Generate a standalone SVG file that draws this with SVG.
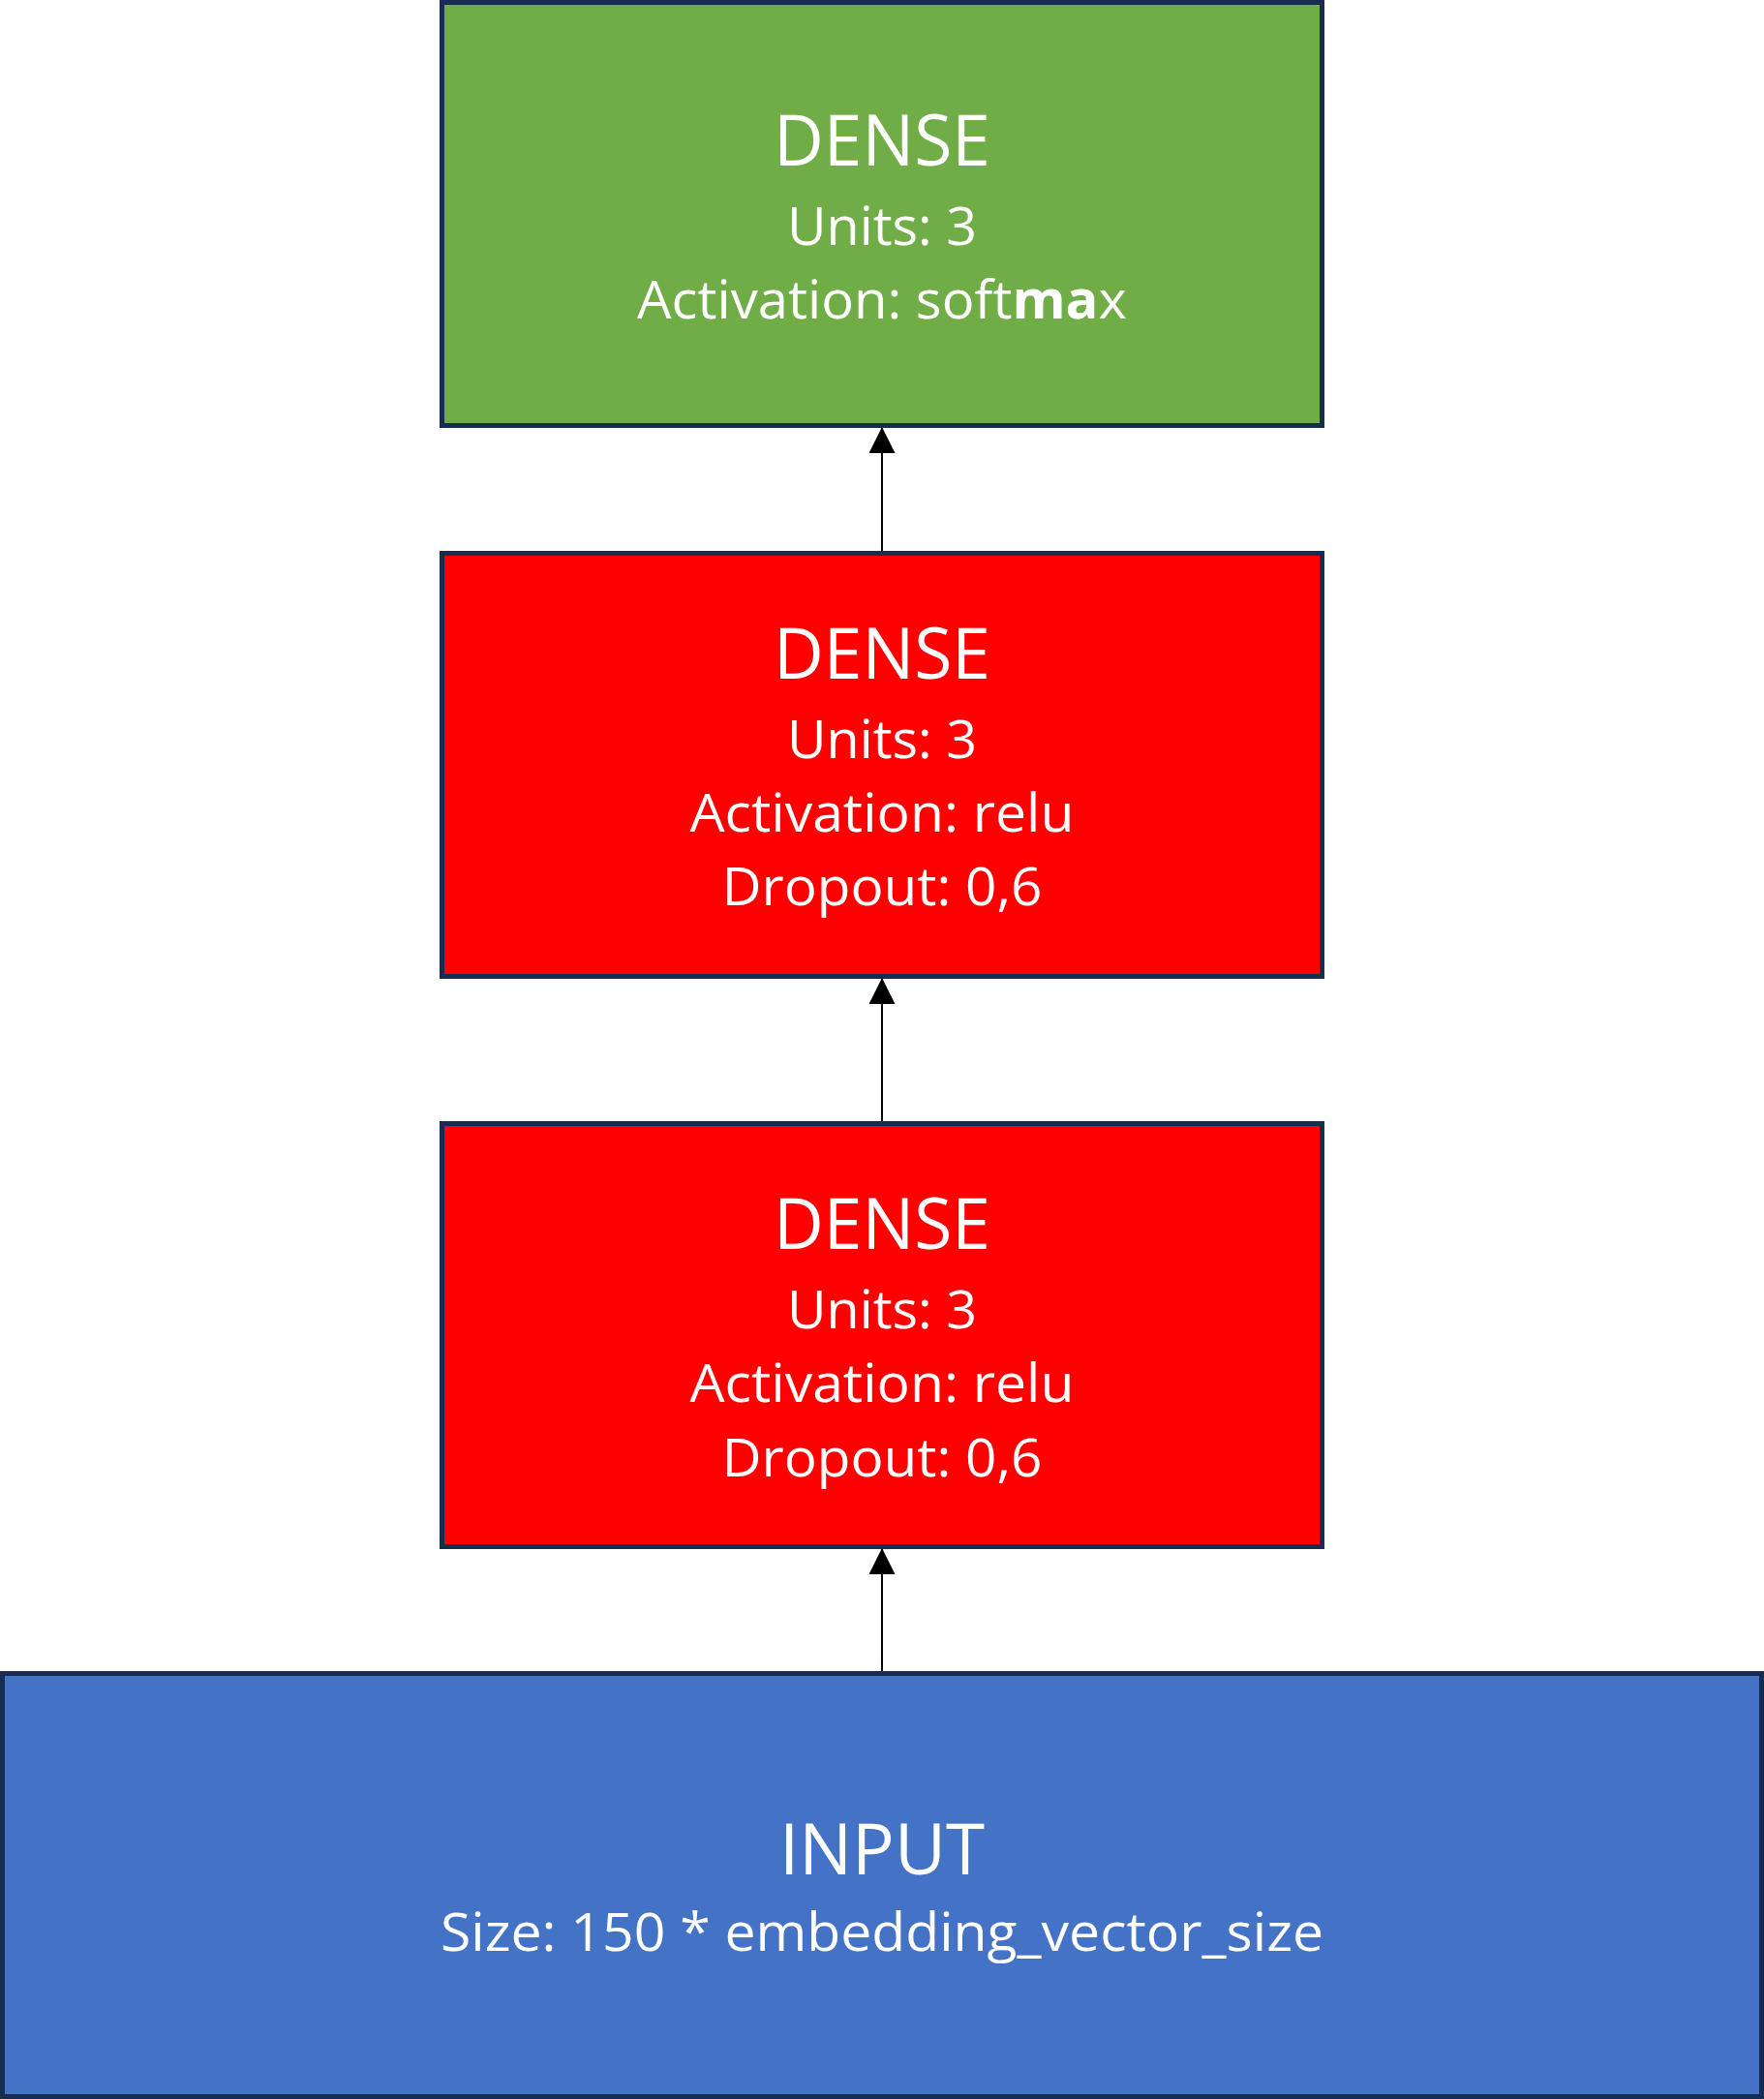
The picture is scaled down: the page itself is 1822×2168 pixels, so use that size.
<svg xmlns="http://www.w3.org/2000/svg" width="1822" height="2168" viewBox="0 0 1822 2168">
  <style>
    .box { stroke: #172C51; stroke-width: 5; }
    .dense-out { fill: #70AD47; }
    .dense-hid { fill: #FF0000; }
    .input { fill: #4472C4; }
    text { font-family: "Open Sans", "Liberation Sans", sans-serif; fill: #FFFFFF; text-anchor: middle; }
    .title { font-size: 74px; }
    .body { font-size: 55px; }
    .b { font-weight: bold; }
    .link { stroke: #000000; stroke-width: 2; fill: none; }
  </style>
  <defs>
    <marker id="arrow" markerUnits="userSpaceOnUse" markerWidth="28" markerHeight="28" refX="27" refY="13.5" orient="auto">
      <path d="M0,0 L27,13.5 L0,27 Z" fill="#000000"/>
    </marker>
  </defs>

  <rect width="1822" height="2168" fill="#FFFFFF"/>

  <!-- connectors -->
  <g id="connectors">
    <line class="link" x1="911" y1="569" x2="911" y2="441" marker-end="url(#arrow)"/>
    <line class="link" x1="911" y1="1158" x2="911" y2="1010" marker-end="url(#arrow)"/>
    <line class="link" x1="911" y1="1726" x2="911" y2="1599" marker-end="url(#arrow)"/>
  </g>

  <!-- output layer -->
  <g id="dense-softmax">
    <rect class="box dense-out" x="456.5" y="2.5" width="909" height="437"/>
    <text class="title" x="911" y="171" textLength="224" lengthAdjust="spacingAndGlyphs">DENSE</text>
    <text class="body" x="911" y="253" textLength="196" lengthAdjust="spacingAndGlyphs">Units: 3</text>
    <text class="body" x="911" y="329" textLength="506" lengthAdjust="spacingAndGlyphs">Activation: soft<tspan class="b">ma</tspan>x</text>
  </g>

  <!-- hidden layer 2 -->
  <g id="dense-relu-2">
    <rect class="box dense-hid" x="456.5" y="571.5" width="909" height="437"/>
    <text class="title" x="911" y="701" textLength="224" lengthAdjust="spacingAndGlyphs">DENSE</text>
    <text class="body" x="911" y="783" textLength="196" lengthAdjust="spacingAndGlyphs">Units: 3</text>
    <text class="body" x="911" y="859" textLength="397" lengthAdjust="spacingAndGlyphs">Activation: relu</text>
    <text class="body" x="911" y="935" textLength="331" lengthAdjust="spacingAndGlyphs">Dropout: 0,6</text>
  </g>

  <!-- hidden layer 1 -->
  <g id="dense-relu-1">
    <rect class="box dense-hid" x="456.5" y="1160.5" width="909" height="437"/>
    <text class="title" x="911" y="1290" textLength="224" lengthAdjust="spacingAndGlyphs">DENSE</text>
    <text class="body" x="911" y="1372" textLength="196" lengthAdjust="spacingAndGlyphs">Units: 3</text>
    <text class="body" x="911" y="1448" textLength="397" lengthAdjust="spacingAndGlyphs">Activation: relu</text>
    <text class="body" x="911" y="1525" textLength="331" lengthAdjust="spacingAndGlyphs">Dropout: 0,6</text>
  </g>

  <!-- input layer -->
  <g id="input">
    <rect class="box input" x="2.5" y="1728.5" width="1817" height="437"/>
    <text class="title" x="911" y="1936" textLength="212" lengthAdjust="spacingAndGlyphs">INPUT</text>
    <text class="body" x="911" y="2015" textLength="912" lengthAdjust="spacingAndGlyphs">Size: 150 * embedding_vector_size</text>
  </g>
</svg>
